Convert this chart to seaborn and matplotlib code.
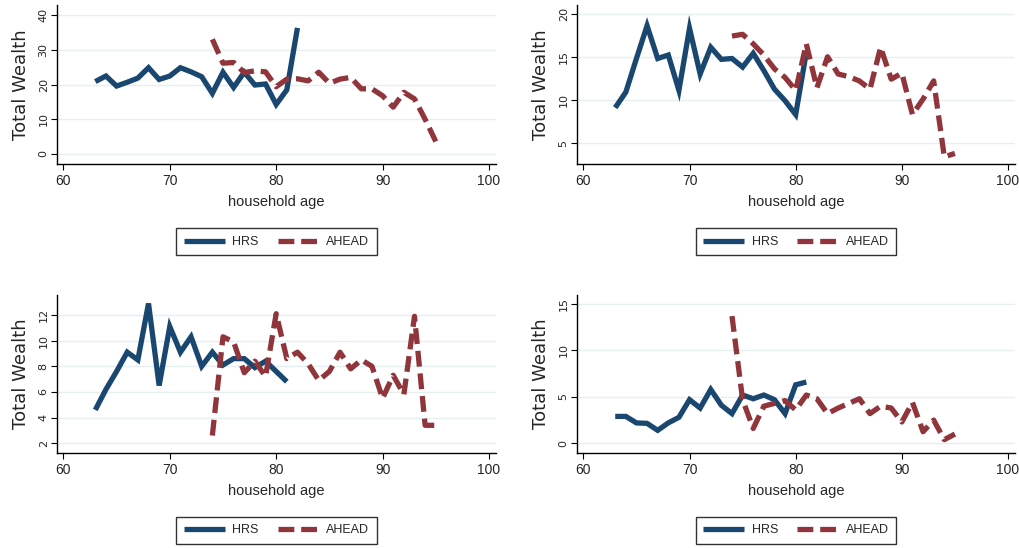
import numpy as np
import pandas as pd
import matplotlib
matplotlib.use("Agg")
import matplotlib.pyplot as plt
from matplotlib.lines import Line2D
import seaborn as sns

# ---------------- data ----------------
hrs_age_1 = list(range(63, 83))
hrs_age = list(range(63, 82))
ahead_age = list(range(74, 96))

hrs_1 = [20.9, 22.5, 19.6, 20.7, 21.9, 24.9, 21.5, 22.5, 24.9, 23.7, 22.3, 17.5,
         23.6, 19.2, 23.6, 19.9, 20.2, 14.3, 18.5, 36.4]
ahead_1 = [33.1, 26.2, 26.4, 23.5, 24.0, 23.7, 19.4, 21.6, 21.7, 21.1, 23.6, 20.4,
           21.6, 22.1, 18.8, 18.8, 16.8, 13.5, 17.8, 15.9, 10.0, 3.6]

hrs_2 = [9.1, 10.9, 14.8, 18.6, 14.8, 15.2, 11.1, 18.3, 13.0, 16.1, 14.7, 14.8,
         13.8, 15.4, 13.4, 11.25, 9.9, 8.3, 15.5]
ahead_2 = [17.4, 17.6, 16.5, 15.2, 13.6, 12.6, 11.1, 16.5, 11.4, 15.0, 13.0, 12.7,
           12.2, 11.25, 16.1, 12.4, 13.1, 8.3, 10.1, 12.2, 3.4, 3.8]

hrs_3 = [4.6, 6.2, 7.6, 9.1, 8.5, 12.9, 6.5, 11.1, 9.1, 10.3, 8.0, 9.1, 8.1, 8.6,
         8.6, 7.9, 8.4, 7.6, 6.8]
ahead_3 = [2.6, 10.3, 9.9, 7.5, 8.4, 7.2, 12.1, 8.6, 9.1, 8.2, 6.9, 7.6, 9.1, 7.8,
           8.5, 8.0, 5.5, 7.3, 5.8, 11.9, 3.4, 3.4]

hrs_4 = [2.9, 2.9, 2.2, 2.15, 1.4, 2.2, 2.8, 4.7, 3.8, 5.8, 4.1, 3.2, 5.2, 4.8,
         5.2, 4.7, 3.2, 6.3, 6.6]
ahead_4 = [13.7, 4.7, 1.6, 4.0, 4.3, 4.6, 3.6, 5.2, 4.8, 3.2, 3.8, 4.3, 4.8, 3.2,
           4.0, 3.8, 2.3, 4.4, 1.25, 2.5, 0.4, 1.0]

series_names = ["HRS", "AHEAD"]
x_ticks = [60, 70, 80, 90, 100]
y_ticks = [[0, 10, 20, 30, 40], [5, 10, 15, 20], [2, 4, 6, 8, 10, 12], [0, 5, 10, 15]]
y_lims = [(-2.9, 43), (2.57, 21), (1.24, 13.56), (-1.04, 15.97)]

panels = [
    (hrs_age_1, hrs_1, ahead_1),
    (hrs_age, hrs_2, ahead_2),
    (hrs_age, hrs_3, ahead_3),
    (hrs_age, hrs_4, ahead_4),
]

# ---------------- style ----------------
sns.set_style("white")
plt.rcParams["font.family"] = ["DejaVu Sans"]
narrow = ["Liberation Sans Narrow", "Liberation Sans", "DejaVu Sans"]

NAVY = "#1a476f"
MAROON = "#90353b"
GRID = "#e6eef1"
LW = 3.8
DASH = (3.0, 1.3)

fig = plt.figure(figsize=(10.19, 5.48), dpi=100)
W, H = 1019, 548
positions = [(57, 5, 496, 164), (577, 5, 1015, 164),
             (57, 295, 496, 453), (577, 295, 1015, 453)]

for i, ((ha, hv, av), (l, t, r, b)) in enumerate(zip(panels, positions)):
    ax = fig.add_axes([l / W, 1 - b / H, (r - l) / W, (b - t) / H])
    df = pd.concat([
        pd.DataFrame({"age": ha, "wealth": hv, "series": "HRS"}),
        pd.DataFrame({"age": ahead_age, "wealth": av, "series": "AHEAD"}),
    ])
    sns.lineplot(data=df, x="age", y="wealth", hue="series", style="series",
                 hue_order=series_names, style_order=series_names,
                 palette={"HRS": NAVY, "AHEAD": MAROON},
                 dashes={"HRS": "", "AHEAD": DASH},
                 estimator=None, sort=False, lw=LW, legend=False, ax=ax)
    for ln in ax.lines:
        ln.set_solid_capstyle("butt")
        ln.set_dash_capstyle("butt")
        ln.set_solid_joinstyle("miter")
    ax.set_xlim(59.4, 100.66)
    ax.set_ylim(*y_lims[i])
    ax.set_xticks(x_ticks)
    ax.set_yticks(y_ticks[i])
    ax.yaxis.grid(True, color=GRID, lw=1.0)
    ax.xaxis.grid(False)
    ax.set_axisbelow(True)
    for s in ["top", "right"]:
        ax.spines[s].set_visible(False)
    for s in ["left", "bottom"]:
        ax.spines[s].set_color("#000000")
        ax.spines[s].set_linewidth(1.0)
    ax.tick_params(axis="both", direction="out", length=4, width=0.8, color="black",
                   left=True, bottom=True)
    ax.tick_params(axis="y", labelsize=8, pad=2)
    for lab in ax.get_yticklabels():
        lab.set_rotation(90)
        lab.set_va("center")
    ax.tick_params(axis="x", labelsize=10, pad=3)
    for lab in ax.get_xticklabels():
        lab.set_family(narrow)
    ax.set_xlabel("household age", family=narrow, fontsize=10.5, labelpad=5)
    ax.set_ylabel("Total Wealth", fontsize=13, labelpad=6)

    handles = [Line2D([], [], color=NAVY, lw=LW, solid_capstyle="butt"),
               Line2D([], [], color=MAROON, lw=LW, dashes=DASH, dash_capstyle="butt")]
    leg = ax.legend(handles, series_names, loc="center", bbox_to_anchor=(0.5, -0.49),
                    ncol=2, frameon=True, fancybox=False, edgecolor="black",
                    handlelength=3.3, handletextpad=0.6, columnspacing=1.5,
                    borderpad=0.6, prop={"family": narrow, "size": 9})
    leg.get_frame().set_linewidth(1.0)

fig.savefig("out.png", dpi=100, facecolor="white")
